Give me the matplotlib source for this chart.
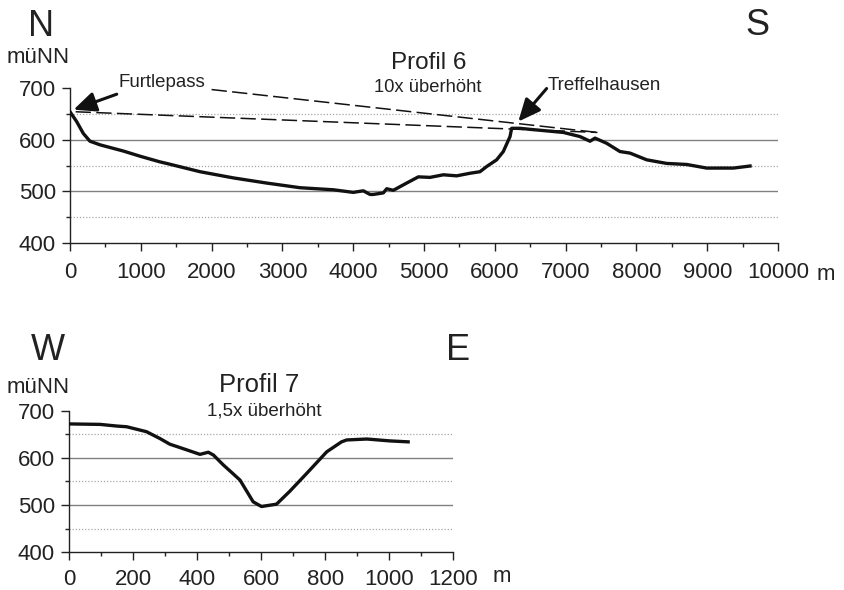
import matplotlib
matplotlib.use("Agg")
import matplotlib.pyplot as plt
from matplotlib.ticker import MultipleLocator

# Profil 6 (N-S), distance in m, elevation in m uNN
p6_dist = [0, 94, 188, 282, 424, 753, 989, 1271, 1365, 1836, 2307, 2778, 3249,
           3720, 4000, 4143, 4237, 4284, 4426, 4473, 4567, 4755, 4920, 5085,
           5273, 5462, 5650, 5791, 5885, 6026, 6120, 6215, 6238, 6356, 6497,
           6733, 6968, 7203, 7345, 7415, 7580, 7768, 7910, 8145, 8428, 8710,
           8993, 9370, 9605]
p6_elev = [654, 635, 612, 597, 590, 578, 568, 557, 554, 538, 526, 516, 507,
           503, 498, 501, 494, 494, 497, 505, 502, 516, 528, 527,
           532, 530, 535, 538, 548, 561, 577, 606, 622, 622, 620,
           617, 614, 606, 597, 603, 593, 577, 574, 561, 554, 552,
           545, 545, 549]

# dashed sight lines in Profil 6
dash_low_x = [80, 7450]
dash_low_y = [654, 614]
dash_up_x = [2000, 7450]
dash_up_y = [697, 614]

# Profil 7 (W-E)
p7_dist = [0, 97, 149, 180, 242, 284, 315, 346, 409, 435, 451, 482, 513, 534,
           575, 601, 648, 689, 742, 805, 851, 867, 930, 1002, 1059]
p7_elev = [672, 671, 667.5, 666, 655.5, 641, 629, 622, 607.5, 612, 606, 585,
           566, 553, 507, 497, 502, 529, 567, 613, 634, 638, 640, 636, 634]

Y_TICKS = [400, 500, 600, 700]
GRID_SOLID = [500, 600]
GRID_DOTTED = [450, 550, 650]

W, H = 844, 590
TXT = "#222222"

plt.rcParams.update({
    "font.family": ["Liberation Sans", "DejaVu Sans"],
    "text.color": TXT,
    "xtick.color": "#222222",
    "ytick.color": "#222222",
})


def fx(px):
    return px / W


def fy(py):
    return 1 - py / H


def style_axis(ax, xmax, xmajor, xminor, xpad):
    ax.set_xlim(0, xmax)
    ax.set_ylim(400, 700)
    for s in ["top", "right"]:
        ax.spines[s].set_visible(False)
    for s in ["left", "bottom"]:
        ax.spines[s].set_linewidth(1.0)
        ax.spines[s].set_color("#222222")
    ax.set_yticks(Y_TICKS)
    ax.yaxis.set_minor_locator(MultipleLocator(50))
    ax.xaxis.set_major_locator(MultipleLocator(xmajor))
    ax.xaxis.set_minor_locator(MultipleLocator(xminor))
    ax.tick_params(which="major", direction="out", length=6, width=1.0,
                   labelsize=16, pad=4)
    ax.tick_params(axis="x", which="major", pad=xpad)
    ax.tick_params(which="minor", direction="out", length=3, width=1.0)
    for y in GRID_SOLID:
        ax.axhline(y, color="#808080", lw=1.0, zorder=1)
    for y in GRID_DOTTED:
        ax.axhline(y, color="#a8a8a8", lw=0.9, ls=(0, (1, 1.5)), zorder=1)


fig = plt.figure(figsize=(W / 100, H / 100), dpi=100)

# ---------------- Profil 6 ----------------
ax1 = fig.add_axes([fx(70), fy(243), fx(778) - fx(70), fy(88) - fy(243)])
style_axis(ax1, 10000, 1000, 500, 8)
ax1.plot(dash_low_x, dash_low_y, color="#111111", lw=1.1, ls=(0, (10, 3.5)), zorder=2)
ax1.plot(dash_up_x, dash_up_y, color="#111111", lw=1.1, ls=(0, (10, 3.5)), zorder=2)
ax1.plot(p6_dist, p6_elev, color="#111111", lw=2.4, solid_joinstyle="round", zorder=3)

arrow = dict(arrowstyle="-|>,head_length=0.85,head_width=0.38", color="#111111",
             lw=2.2, shrinkA=0, shrinkB=0, mutation_scale=16)
ax1.annotate("", xy=(50, 658), xytext=(660, 688), arrowprops=arrow,
             annotation_clip=False)
ax1.annotate("", xy=(6332, 635), xytext=(6732, 699), arrowprops=arrow,
             annotation_clip=False)

fig.text(fx(28), fy(36), "N", fontsize=26, ha="left", va="baseline")
fig.text(fx(745), fy(35), "S", fontsize=26, ha="left", va="baseline")
fig.text(fx(7), fy(62.7), "müNN", fontsize=16, ha="left", va="baseline")
fig.text(fx(429), fy(69), "Profil 6", fontsize=17.5, ha="center", va="baseline")
fig.text(fx(428), fy(92.5), "10x überhöht", fontsize=13.2, ha="center", va="baseline")
fig.text(fx(118), fy(87), "Furtlepass", fontsize=13.4, ha="left", va="baseline")
fig.text(fx(548), fy(90.5), "Treffelhausen", fontsize=13.5, ha="left", va="baseline")
fig.text(fx(817), fy(280), "m", fontsize=16, ha="left", va="baseline")

# ---------------- Profil 7 ----------------
ax2 = fig.add_axes([fx(69), fy(552.3), fx(453.3) - fx(69), fy(410.7) - fy(552.3)])
style_axis(ax2, 1200, 200, 100, 6)
ax2.plot(p7_dist, p7_elev, color="#111111", lw=2.4, solid_joinstyle="round", zorder=3)

fig.text(fx(31), fy(360.5), "W", fontsize=26, ha="left", va="baseline")
fig.text(fx(446), fy(360.5), "E", fontsize=26, ha="left", va="baseline")
fig.text(fx(7), fy(392.7), "müNN", fontsize=16, ha="left", va="baseline")
fig.text(fx(259), fy(392.5), "Profil 7", fontsize=18.5, ha="center", va="baseline")
fig.text(fx(264), fy(415.5), "1,5x überhöht", fontsize=13.5, ha="center", va="baseline")
fig.text(fx(493), fy(581.5), "m", fontsize=16, ha="left", va="baseline")

fig.savefig("out.png", dpi=100)
